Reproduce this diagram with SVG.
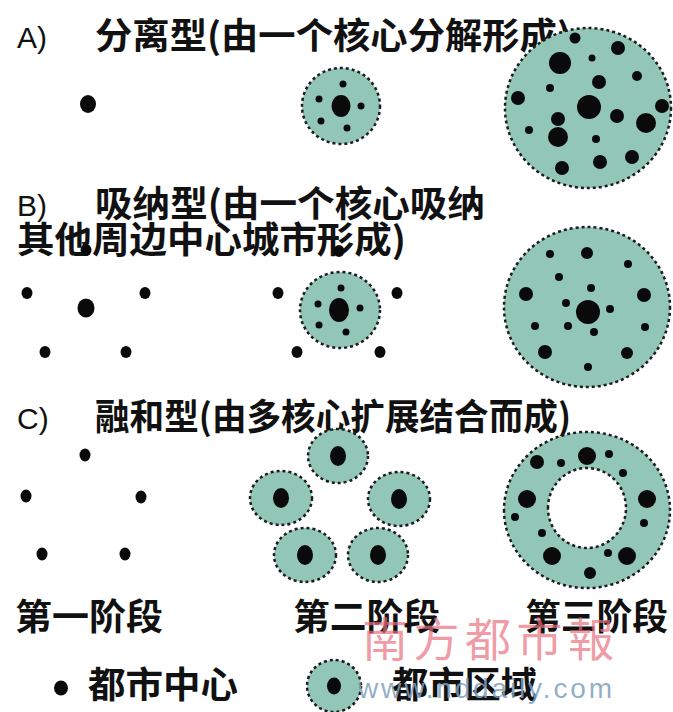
<svg xmlns="http://www.w3.org/2000/svg" width="673" height="712" viewBox="0 0 673 712">
<defs>
<style>
.zone{fill:#92c6b6;stroke:#1c1c1c;stroke-width:2.5;stroke-dasharray:3 3;}
.ring{fill:#92c6b6;fill-rule:evenodd;stroke:#1c1c1c;stroke-width:2.5;stroke-dasharray:3 3;}
.d{fill:#0a0a0a;}
.t{font-family:"Noto Sans CJK SC","Noto Sans CJK JP",sans-serif;font-size:36px;font-weight:bold;fill:#111;}
.l{font-family:"Liberation Sans",Arial,sans-serif;font-size:30px;fill:#111;}
.wm{font-family:"Noto Sans CJK TC","Noto Sans CJK SC",sans-serif;font-size:46px;fill:#e8707f;fill-opacity:0.7;}
.url{font-family:"Liberation Sans",Arial,sans-serif;font-size:28px;fill:#7f9fbf;fill-opacity:0.85;}
</style>
</defs>
<rect width="673" height="712" fill="#ffffff"/>

<g id="titles">
<text class="l" x="17" y="48">A)</text>
<text class="t" x="95" y="49" textLength="476" lengthAdjust="spacingAndGlyphs">分离型(由一个核心分解形成)</text>
<text class="l" x="17" y="216">B)</text>
<text class="t" x="95" y="217" textLength="390" lengthAdjust="spacingAndGlyphs">吸纳型(由一个核心吸纳</text>
<text class="t" x="17" y="253" textLength="389" lengthAdjust="spacingAndGlyphs">其他周边中心城市形成)</text>
<text class="l" x="17" y="429">C)</text>
<text class="t" x="95" y="430" textLength="476" lengthAdjust="spacingAndGlyphs">融和型(由多核心扩展结合而成)</text>
</g>

<g id="A1">
<ellipse class="d" cx="88" cy="104" rx="8" ry="9"/>
</g>

<g id="A2">
<ellipse class="zone" cx="341" cy="106" rx="39" ry="38"/>
<ellipse class="d" cx="341" cy="106" rx="9.5" ry="11"/>
<circle class="d" cx="343" cy="84" r="3.5"/>
<circle class="d" cx="319" cy="99" r="3.5"/>
<circle class="d" cx="361" cy="106" r="3.5"/>
<circle class="d" cx="321" cy="121" r="3.5"/>
<circle class="d" cx="347" cy="128" r="3.5"/>
</g>

<g id="A3">
<ellipse class="zone" cx="588" cy="108" rx="83" ry="80"/>
<circle class="d" cx="560" cy="63" r="11"/>
<circle class="d" cx="618" cy="48" r="7"/>
<circle class="d" cx="592" cy="58" r="3.5"/>
<circle class="d" cx="575" cy="38" r="5.5"/>
<circle class="d" cx="637" cy="76" r="5"/>
<circle class="d" cx="599" cy="82" r="7"/>
<circle class="d" cx="550" cy="88" r="4"/>
<circle class="d" cx="518" cy="98" r="7"/>
<circle class="d" cx="589" cy="107" r="12"/>
<circle class="d" cx="662" cy="106" r="7"/>
<circle class="d" cx="617" cy="116" r="7"/>
<circle class="d" cx="558" cy="119" r="7"/>
<circle class="d" cx="646" cy="123" r="10"/>
<circle class="d" cx="529" cy="130" r="4"/>
<circle class="d" cx="558" cy="137" r="10"/>
<circle class="d" cx="596" cy="139" r="4"/>
<circle class="d" cx="600" cy="162" r="7"/>
<circle class="d" cx="632" cy="157" r="7"/>
<circle class="d" cx="562" cy="168" r="7"/>
</g>

<g id="B1">
<ellipse class="d" cx="86" cy="250" rx="5.5" ry="6"/>
<ellipse class="d" cx="27" cy="293" rx="5.5" ry="6"/>
<ellipse class="d" cx="145" cy="293" rx="5.5" ry="6"/>
<ellipse class="d" cx="86" cy="308" rx="8.5" ry="9.5"/>
<ellipse class="d" cx="45" cy="352" rx="5.5" ry="6"/>
<ellipse class="d" cx="126" cy="352" rx="5.5" ry="6"/>
</g>

<g id="B2">
<ellipse class="d" cx="339" cy="251" rx="5.5" ry="6"/>
<ellipse class="d" cx="278" cy="293" rx="5.5" ry="6"/>
<ellipse class="d" cx="397" cy="293" rx="5.5" ry="6"/>
<ellipse class="d" cx="297" cy="352" rx="5.5" ry="6"/>
<ellipse class="d" cx="380" cy="352" rx="5.5" ry="6"/>
<ellipse class="zone" cx="340" cy="310" rx="40" ry="38"/>
<ellipse class="d" cx="339" cy="310" rx="10" ry="12"/>
<circle class="d" cx="341" cy="288" r="3.5"/>
<circle class="d" cx="318" cy="304" r="3.5"/>
<circle class="d" cx="360" cy="308" r="3.5"/>
<circle class="d" cx="319" cy="325" r="3.5"/>
<circle class="d" cx="346" cy="332" r="3.5"/>
</g>

<g id="B3">
<ellipse class="zone" cx="587" cy="307" rx="83" ry="80"/>
<circle class="d" cx="587" cy="253" r="6"/>
<circle class="d" cx="550" cy="254" r="4"/>
<circle class="d" cx="628" cy="264" r="4"/>
<circle class="d" cx="559" cy="277" r="4"/>
<circle class="d" cx="591" cy="288" r="4"/>
<circle class="d" cx="526" cy="294" r="7"/>
<circle class="d" cx="644" cy="295" r="7"/>
<circle class="d" cx="566" cy="303" r="4"/>
<circle class="d" cx="588" cy="312" r="12"/>
<circle class="d" cx="610" cy="309" r="4"/>
<circle class="d" cx="535" cy="326" r="4"/>
<circle class="d" cx="568" cy="326" r="4"/>
<circle class="d" cx="594" cy="332" r="4"/>
<circle class="d" cx="645" cy="327" r="4"/>
<circle class="d" cx="545" cy="352" r="7"/>
<circle class="d" cx="627" cy="353" r="6"/>
<circle class="d" cx="588" cy="367" r="4"/>
</g>

<g id="C1">
<ellipse class="d" cx="85" cy="455" rx="5.5" ry="6.5"/>
<ellipse class="d" cx="26" cy="496" rx="5.5" ry="6.5"/>
<ellipse class="d" cx="141" cy="497" rx="5.5" ry="6.5"/>
<ellipse class="d" cx="42" cy="554" rx="5.5" ry="6.5"/>
<ellipse class="d" cx="125" cy="554" rx="5.5" ry="6.5"/>
</g>

<g id="C2">
<ellipse class="zone" cx="338" cy="456" rx="30" ry="27"/>
<ellipse class="d" cx="338" cy="456" rx="8" ry="10"/>
<ellipse class="zone" cx="281" cy="498" rx="31" ry="27"/>
<ellipse class="d" cx="281" cy="498" rx="8" ry="10"/>
<ellipse class="zone" cx="399" cy="499" rx="31" ry="27"/>
<ellipse class="d" cx="399" cy="499" rx="8" ry="10"/>
<ellipse class="zone" cx="305" cy="555" rx="31" ry="27"/>
<ellipse class="d" cx="305" cy="555" rx="8" ry="10"/>
<ellipse class="zone" cx="378" cy="555" rx="30" ry="27"/>
<ellipse class="d" cx="378" cy="555" rx="8" ry="10"/>
</g>

<g id="C3">
<path class="ring" d="M504,510 A83,78 0 1,0 670,510 A83,78 0 1,0 504,510 Z M548,508 A39,40 0 1,1 626,508 A39,40 0 1,1 548,508 Z"/>
<circle class="d" cx="587" cy="456" r="9"/>
<circle class="d" cx="537" cy="462" r="7"/>
<circle class="d" cx="561" cy="463" r="4"/>
<circle class="d" cx="609" cy="454" r="4"/>
<circle class="d" cx="623" cy="473" r="4"/>
<circle class="d" cx="527" cy="499" r="9"/>
<circle class="d" cx="647" cy="499" r="9"/>
<circle class="d" cx="515" cy="517" r="4"/>
<circle class="d" cx="644" cy="523" r="4"/>
<circle class="d" cx="542" cy="533" r="4"/>
<circle class="d" cx="552" cy="556" r="9"/>
<circle class="d" cx="627" cy="556" r="9"/>
<circle class="d" cx="608" cy="553" r="4"/>
<circle class="d" cx="590" cy="573" r="6"/>
</g>

<g id="stages">
<text class="t" x="15" y="630" textLength="148" lengthAdjust="spacingAndGlyphs">第一阶段</text>
<text class="t" x="293" y="630" textLength="147" lengthAdjust="spacingAndGlyphs">第二阶段</text>
<text class="t" x="525" y="630" textLength="143" lengthAdjust="spacingAndGlyphs">第三阶段</text>
</g>

<g id="legend-center">
<ellipse class="d" cx="61" cy="688" rx="7" ry="7.5"/>
<text class="t" x="88" y="698" textLength="150" lengthAdjust="spacingAndGlyphs">都市中心</text>
</g>

<g id="legend-zone">
<ellipse class="zone" cx="334" cy="686" rx="27" ry="26"/>
<ellipse class="d" cx="334" cy="686" rx="7" ry="8.5"/>
<text class="t" x="392" y="698" textLength="145" lengthAdjust="spacingAndGlyphs">都市区域</text>
</g>

<g id="watermark">
<text class="wm" x="362" y="656" textLength="252" lengthAdjust="spacing">南方都市報</text>
<text class="url" x="358" y="698" textLength="254" lengthAdjust="spacing">www.nddaily.com</text>
</g>

<g id="connectors"></g>
</svg>
